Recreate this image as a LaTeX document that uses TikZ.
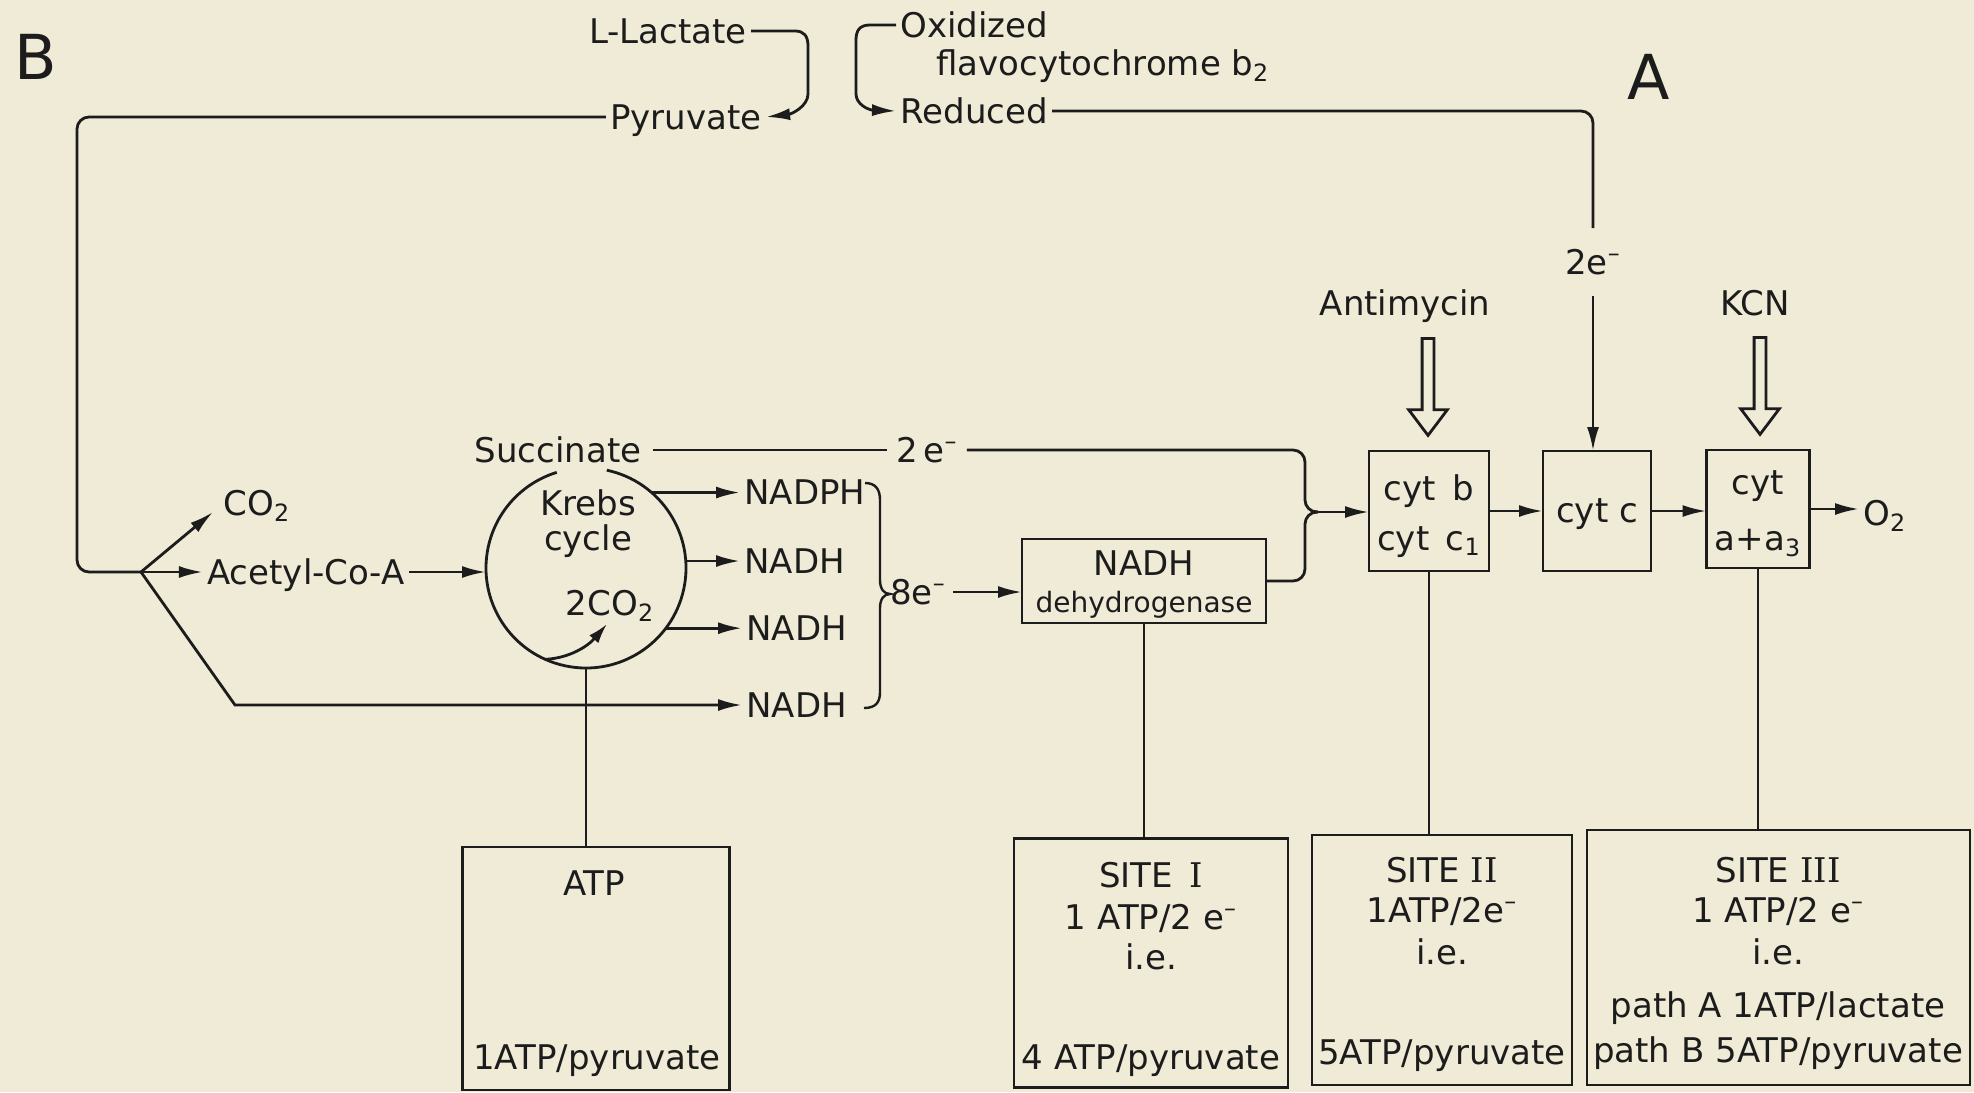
\documentclass[tikz,border=0pt]{standalone}
\usepackage{fontspec}
\setmainfont{DejaVu Sans}
\newfontfamily\rmn{DejaVu Serif}
\usetikzlibrary{arrows.meta,shapes.arrows}
\definecolor{paper}{RGB}{239,235,214}
\definecolor{ink}{RGB}{28,28,28}
\newcommand\nf{\fontsize{17pt}{20pt}\selectfont}
\newcommand\smallf{\fontsize{14pt}{16pt}\selectfont}
\newcommand\bigf{\fontsize{31pt}{34pt}\selectfont}
\newcommand\emn{e\textsuperscript{–}}
\begin{document}
\begin{tikzpicture}[x=0.5pt,y=-0.5pt,line width=1.4pt,color=ink,
  txt/.style={inner sep=1.5pt,text height=12.4pt,text depth=0pt,font=\nf},
  box/.style={draw,inner sep=0pt,outer sep=0pt},
  arr/.style={-{Latex[length=12pt,width=6pt]}},
  rc/.style={rounded corners=6pt},
  hollow/.style={draw,single arrow,rotate=-90,minimum height=48.5pt,minimum width=18pt,
    single arrow head extend=6.75pt,single arrow tip angle=74,inner sep=2.25pt,
    single arrow head indent=0pt}]
\fill[paper] (0,0) rectangle (1974,1092);
\useasboundingbox (0,0) rectangle (1974,1092);

% big labels
\node[txt,font=\bigf,text height=22pt] (labB) at (36,57) {B};
\node[txt,font=\bigf,text height=22pt] (labA) at (1649,77) {A};

% top part
\node[txt] (lact) at (668,31) {L-Lactate};
\node[txt] (pyr) at (686,117) {Pyruvate};
\node[txt,anchor=west] (oxid) at (896,25) {Oxidized};
\node[txt,anchor=west] (flavo) at (932,63) {flavocytochrome b\textsubscript{2}};
\node[txt,anchor=west] (red) at (896,111) {Reduced};

\draw[arr] (lact.east) -- (795,31) .. controls (804,31) and (808,36) .. (808,46) -- (808,94)
   .. controls (808,106) and (792,114) .. (pyr.east);
\draw[arr] (oxid.west) -- (870,25) .. controls (860,25) and (856,30) .. (856,40) -- (856,94)
   .. controls (856,104) and (868,110) .. (red.west);

% inhibitors and electrons
\node[txt,inner ysep=10pt] (e2top) at (1593,262) {2\emn};
\node[txt] (anti) at (1405,303) {Antimycin};
\node[txt] (kcn) at (1755,303) {KCN};

% boxes of the chain
\node[box,minimum width=60pt,minimum height=60pt] (cytb) at (1429,511) {};
\node[box,minimum width=54pt,minimum height=60pt] (cytc) at (1597,511) {};
\node[box,minimum width=51.5pt,minimum height=59pt] (cyta) at (1758,509) {};
\node[box,minimum width=122pt,minimum height=42pt] (dehydro) at (1144,581) {};
\node[txt] (cytbA) at (1429,488) {cyt\, b};
\node[txt] (cytbB) at (1429,538) {cyt\, c\textsubscript{1}};
\node[txt] (cytcA) at (1597,510) {cyt c};
\node[txt] (cytaA) at (1758,482) {cyt};
\node[txt] (cytaB) at (1758,538) {a+a\textsubscript{3}};
\node[txt,anchor=west] (o2) at (1859,513) {O\textsubscript{2}};
\node[txt] (dhA) at (1144,563) {NADH};
\node[txt,font=\smallf,text height=10.2pt] (dhB) at (1144,602) {dehydrogenase};

\draw[rc] (red.east) -| (e2top.north);
\draw[arr] (e2top.south) -- (e2top.south |- cytc.north);
\node[hollow] (antiarr) at (1428,383) {};
\node[hollow] (kcnarr) at (1760,382) {};

\draw[arr] (cytb.east) -- (cytb.east -| cytc.west);
\draw[arr] (cytc.east) -- (cytc.east -| cyta.west);
\draw[arr] (cyta.east) -- (cyta.east -| o2.west);

% Krebs cycle
\node[circle,minimum size=100pt,inner sep=0pt,outer sep=0pt] (krebs) at (586,568) {};
\draw (krebs.78) arc[start angle=282,end angle=613,radius=100];
\node[txt,inner xsep=5pt] (succ) at (558,450) {Succinate};
\node[txt] (krebsA) at (588,503) {Krebs};
\node[txt] (krebsB) at (588,538) {cycle};
\node[txt] (co2in) at (610,603) {2CO\textsubscript{2}};
\coordinate (co2intip) at (607,624);
\draw[-{Latex[length=10pt,width=6pt]}] (krebs.246) .. controls (570,658) and (588,646) .. (co2intip);

\node[txt] (co2) at (257,503) {CO\textsubscript{2}};
\node[txt] (acetyl) at (306,572) {Acetyl-Co-A};
\coordinate (branch) at (141,572);
\coordinate (bend) at (77,572);
\coordinate (co2tip) at (213,512);
\coordinate (diag) at (235,705);
\draw[rc] (pyr.west) -| (bend) -- (branch);
\draw[arr] (branch) -- (co2tip);
\draw[arr] (branch) -- (acetyl.west);
\draw[arr] (acetyl.east) -- (acetyl.east -| krebs.west);

\node[txt,anchor=west] (nadph) at (740,492) {NADPH};
\node[txt,anchor=west] (nadh1) at (740,561) {NADH};
\node[txt,anchor=west] (nadh2) at (742,628) {NADH};
\node[txt,anchor=west] (nadh3) at (742,705) {NADH};
\draw[arr] (krebs.49) -- (krebs.49 -| nadph.west);
\draw[arr] (krebs.4) -- (krebs.4 -| nadh1.west);
\draw[arr] (krebs.-37) -- (krebs.-37 -| nadh2.west);
\draw[arr] (branch) -- (diag) -- (nadh3.west);

% brace and 8e-
\draw[line width=1.2pt] (865,483) .. controls (876,483) and (880,490) .. (880,500) -- (880,580)
   .. controls (880,589) and (884,594) .. (890,594) .. controls (884,594) and (880,599) .. (880,608)
   -- (880,692) .. controls (880,702) and (876,708) .. (864,708);
\node[txt,inner xsep=3pt] (e8) at (918,592) {8\emn};
\draw[arr] (e8.east) -- (e8.east -| dehydro.west);

% succinate line and brace into cyt b
\node[txt,inner xsep=4pt] (e2mid) at (927,450) {2\,\emn};
\coordinate (bt) at (1318,512);
\draw (succ.east) -- (e2mid.west);
\draw[rc] (e2mid.east) -- (1305,450) -- (1305,512) -- (bt);
\draw[rc] (dehydro.east) -- (1305,581) -- (1305,512) -- (bt);
\draw[arr] (bt) -- (bt -| cytb.west);

% bottom boxes
\node[box,minimum width=133.5pt,minimum height=121.5pt] (atpbox) at (596,968.5) {};
\node[box,minimum width=137pt,minimum height=124.5pt] (site1) at (1151,963) {};
\node[box,minimum width=130pt,minimum height=125pt] (site2) at (1442,960) {};
\node[box,minimum width=191.5pt,minimum height=127.5pt] (site3) at (1778.5,957.5) {};

\draw (krebs.south) -- (krebs.south |- atpbox.north);
\draw (dehydro.south) -- (dehydro.south |- site1.north);
\draw (cytb.south) -- (cytb.south |- site2.north);
\draw (cyta.south) -- (cyta.south |- site3.north);

\node[txt] (atpA) at (594,883) {ATP};
\node[txt] (atpB) at (597,1057) {1ATP/pyruvate};

\node[txt] (s1A) at (1151,875) {SITE\, {\rmn I}};
\node[txt] (s1B) at (1151,917) {1 ATP/2 \emn};
\node[txt] (s1C) at (1151,957) {i.e.};
\node[txt] (s1D) at (1151,1057) {4 ATP/pyruvate};

\node[txt] (s2A) at (1442,870) {SITE {\rmn II}};
\node[txt] (s2B) at (1442,910) {1ATP/2\emn};
\node[txt] (s2C) at (1442,952) {i.e.};
\node[txt] (s2D) at (1442,1052) {5ATP/pyruvate};

\node[txt] (s3A) at (1778,870) {SITE {\rmn III}};
\node[txt] (s3B) at (1778,910) {1 ATP/2 \emn};
\node[txt] (s3C) at (1778,952) {i.e.};
\node[txt] (s3D) at (1778,1005) {path A 1ATP/lactate};
\node[txt] (s3E) at (1778,1050) {path B 5ATP/pyruvate};
\end{tikzpicture}
\end{document}
